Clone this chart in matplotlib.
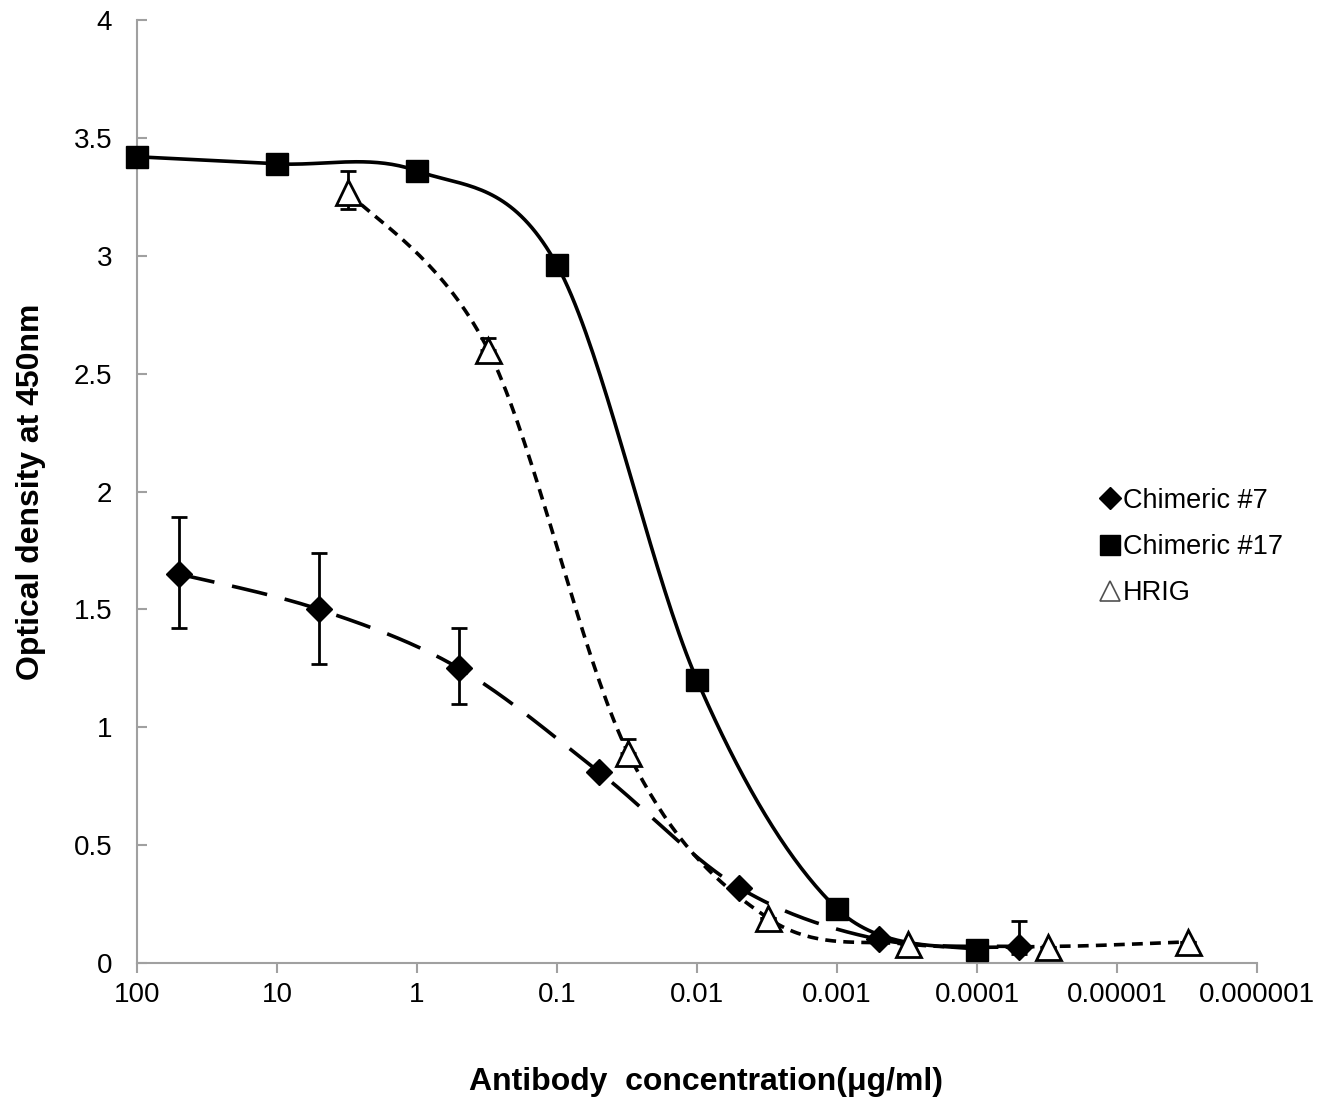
import numpy as np
import matplotlib
matplotlib.use("Agg")
import matplotlib.pyplot as plt
from matplotlib.lines import Line2D

plt.rcParams['font.family'] = ['Liberation Sans', 'DejaVu Sans']

# ---- data ----
x_c17 = [100, 10, 1, 0.1, 0.01, 0.001, 0.0001]
y_c17 = [3.42, 3.39, 3.36, 2.96, 1.20, 0.23, 0.055]

x_c7 = [50, 5, 0.5, 0.05, 0.005, 0.0005, 0.00005]
y_c7 = [1.65, 1.50, 1.25, 0.81, 0.32, 0.10, 0.07]
err_c7_up = [0.24, 0.24, 0.17, 0.0, 0.0, 0.0, 0.11]
err_c7_dn = [0.23, 0.23, 0.15, 0.0, 0.0, 0.0, 0.03]

x_hrig = [3.1, 0.31, 0.031, 0.0031, 0.00031, 0.000031, 0.0000031]
y_hrig = [3.27, 2.60, 0.89, 0.19, 0.08, 0.07, 0.09]
err_hrig_up = [0.09, 0.05, 0.06, 0.0, 0.0, 0.0, 0.0]
err_hrig_dn = [0.07, 0.0, 0.0, 0.0, 0.0, 0.0, 0.0]

xticks = [100, 10, 1, 0.1, 0.01, 0.001, 0.0001, 0.00001, 0.000001]
xticklabels = ['100', '10', '1', '0.1', '0.01', '0.001', '0.0001', '0.00001', '0.000001']
yticks = [0, 0.5, 1, 1.5, 2, 2.5, 3, 3.5, 4]
yticklabels = ['0', '0.5', '1', '1.5', '2', '2.5', '3', '3.5', '4']


def smooth(xs, ys, n=40):
    """Catmull-Rom (Excel-style smoothed line) in log10-x space."""
    lx = np.log10(np.asarray(xs, float))
    y = np.asarray(ys, float)
    px, py = [], []
    m = len(lx)
    for i in range(m - 1):
        p0 = (lx[max(i - 1, 0)], y[max(i - 1, 0)])
        p1 = (lx[i], y[i])
        p2 = (lx[i + 1], y[i + 1])
        p3 = (lx[min(i + 2, m - 1)], y[min(i + 2, m - 1)])
        b1 = (p1[0] + (p2[0] - p0[0]) / 6, p1[1] + (p2[1] - p0[1]) / 6)
        b2 = (p2[0] - (p3[0] - p1[0]) / 6, p2[1] - (p3[1] - p1[1]) / 6)
        t = np.linspace(0, 1, n)
        bx = ((1 - t) ** 3) * p1[0] + 3 * ((1 - t) ** 2) * t * b1[0] + 3 * (1 - t) * t ** 2 * b2[0] + t ** 3 * p2[0]
        by = ((1 - t) ** 3) * p1[1] + 3 * ((1 - t) ** 2) * t * b1[1] + 3 * (1 - t) * t ** 2 * b2[1] + t ** 3 * p2[1]
        px.extend(bx)
        py.extend(by)
    return 10 ** np.array(px), np.array(py)


fig = plt.figure(figsize=(13.28, 11.01), dpi=100)
ax = fig.add_axes([0.1032, 0.1253, 0.8434, 0.8565])
ax.set_xscale('log')

lw = 2.6
# curves
sx, sy = smooth(x_c7, y_c7)
ax.plot(sx, sy, color='black', lw=lw, dashes=(10, 5), zorder=2)
sx, sy = smooth(x_hrig, y_hrig)
ax.plot(sx, sy, color='black', lw=lw, dashes=(3, 2), zorder=2)
sx, sy = smooth(x_c17, y_c17)
ax.plot(sx, sy, color='black', lw=lw, zorder=2)

# error bars
ax.errorbar(x_c7, y_c7, yerr=[err_c7_dn, err_c7_up], fmt='none', ecolor='black',
            elinewidth=2, capsize=6, capthick=2, zorder=3)
ax.errorbar(x_hrig, y_hrig, yerr=[err_hrig_dn, err_hrig_up], fmt='none', ecolor='black',
            elinewidth=2, capsize=6, capthick=2, zorder=3)

# markers
ax.plot(x_c7, y_c7, linestyle='none', marker='D', ms=13, color='black', zorder=4, clip_on=False)
ax.plot(x_c17, y_c17, linestyle='none', marker='s', ms=15.5, color='black', zorder=4, clip_on=False)
ax.plot(x_hrig, y_hrig, linestyle='none', marker='^', ms=18, mfc='white', mec='black',
        mew=2, zorder=4, clip_on=False)

ax.set_xlim(100, 0.000001)
ax.set_ylim(0, 4)
ax.set_xticks(xticks)
ax.set_xticklabels(xticklabels)
ax.minorticks_off()
ax.set_yticks(yticks)
ax.set_yticklabels(yticklabels)

for s in ['top', 'right']:
    ax.spines[s].set_visible(False)
for s in ['left', 'bottom']:
    ax.spines[s].set_color('#a0a0a0')
    ax.spines[s].set_linewidth(1.5)
ax.tick_params(axis='both', colors='#a0a0a0', width=1.5, length=7, labelsize=20,
               labelcolor='black')
ax.tick_params(axis='x', direction='out', pad=7)
ax.tick_params(axis='y', direction='in', pad=18)

ax.set_xlabel('Antibody  concentration(μg/ml)', fontsize=23, fontweight='bold')
ax.xaxis.set_label_coords(0.508, -0.110)
ax.set_ylabel('Optical density at 450nm', fontsize=23, fontweight='bold', labelpad=20)

handles = [
    Line2D([], [], linestyle='none', marker='D', ms=11, color='black'),
    Line2D([], [], linestyle='none', marker='s', ms=14, color='black'),
    Line2D([], [], linestyle='none', marker='^', ms=14, mfc='white', mec='#505050', mew=1.2),
]
ax.legend(handles, ['Chimeric #7', 'Chimeric #17', 'HRIG'], loc='center left',
          bbox_to_anchor=(0.84, 0.441), frameon=False, fontsize=19.5, handlelength=0.6,
          handletextpad=0.15, labelspacing=0.75)

fig.savefig('out.png', dpi=100)
